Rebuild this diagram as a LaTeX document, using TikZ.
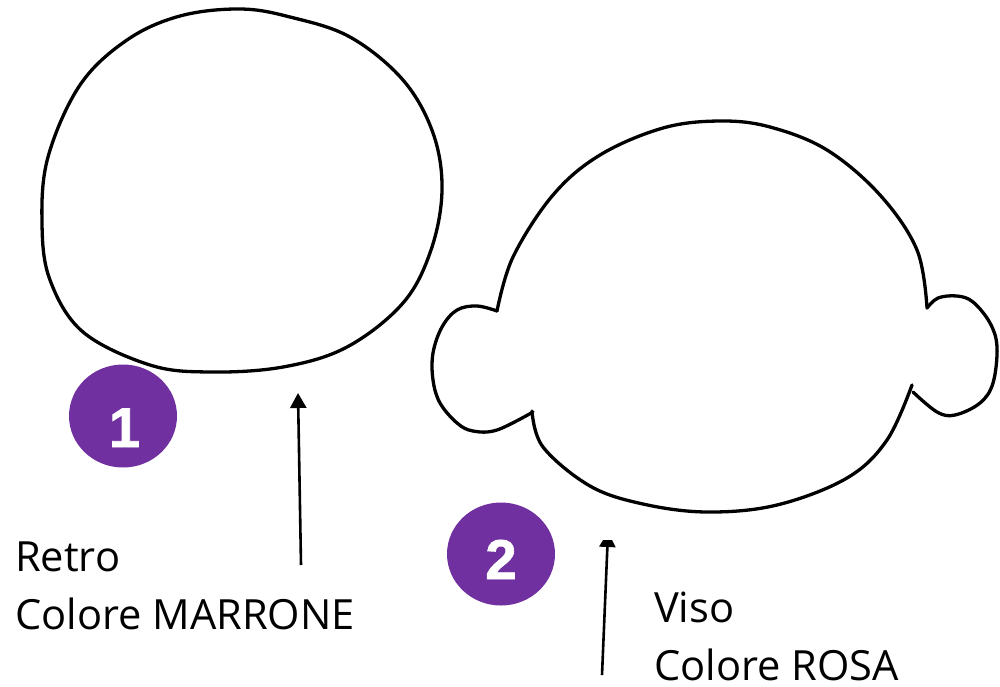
\documentclass[tikz,border=0pt]{standalone}
\usepackage{fontspec}
\setmainfont{Open Sans}
\newfontfamily\badgefont[BoldFeatures={FakeBold=1.5}]{Liberation Sans}
\usetikzlibrary{arrows.meta,shapes.geometric}
\definecolor{badgepurple}{HTML}{7030A0}
\tikzset{
  x=1pt,y=-1pt,
  sketch/.style={draw=black,line width=3.3pt,line join=round,line cap=round},
  badge/.style={ellipse,fill=badgepurple,minimum width=108pt,minimum height=103pt,inner sep=0pt,text=white,font=\badgefont\fontsize{56}{56}\selectfont\bfseries},
  caption/.style={anchor=north west,inner sep=0pt,align=left,font=\fontsize{41.6}{57.5}\selectfont},
  pointer/.style={draw=black,line width=2.6pt,-{Triangle[length=15pt,width=16pt]}}
}
\begin{document}
\begin{tikzpicture}
\useasboundingbox (0,0) rectangle (1000,686);
% back of the head
\draw[sketch] plot[smooth cycle,tension=0.6] coordinates {(240,9)(290,17)(350,37)(403,80)(433,133)(442,190)(431,250)(403,303)(347,347)(283,367)(210,372)(150,365)(83,332)(50,280)(42,223)(48,157)(80,85)(127,40)(180,16)};
% face with ears
\draw[sketch] plot[smooth,tension=0.6] coordinates {(497,311)(513,257)(553,195)(600,155)(663,128)(720,121)(770,127)(827,150)(880,195)(917,250)(927,308)};
\draw[sketch] plot[smooth,tension=0.6] coordinates {(927,308)(938,298)(957,296)(973,302)(990,323)(997,347)(993,383)(980,403)(955,415)(937,412)(913,392)};
\draw[sketch] plot[smooth,tension=0.6] coordinates {(912,385)(887,440)(847,478)(777,505)(707,512)(643,504)(590,486)(543,447)(532,411)};
\draw[sketch] plot[smooth,tension=0.6] coordinates {(533,412)(497,430)(473,431)(457,423)(440,403)(433,380)(433,353)(442,327)(457,310)(477,306)(497,311)};
\node[badge] (b1) at (123,416) {\hspace{3pt}\raisebox{-31pt}[0pt][0pt]{1}};
\node[badge] (b2) at (501,554) {\raisebox{-25pt}[0pt][0pt]{2}};
\node[caption] (t1) at (15,542) {Retro\\Colore MARRONE};
\node[caption] (t2) at (654,592) {Viso\\Colore ROSA};
\coordinate (a1s) at (301,565);
\coordinate (a1e) at (298,393);
\coordinate (a2s) at (602,675);
\coordinate (a2e) at (608,532);
\draw[pointer] (a1s) -- (a1e);
\begin{scope}
\clip (560,540) rectangle (660,686);
\draw[pointer] (a2s) -- (a2e);
\end{scope}
\end{tikzpicture}
\end{document}
